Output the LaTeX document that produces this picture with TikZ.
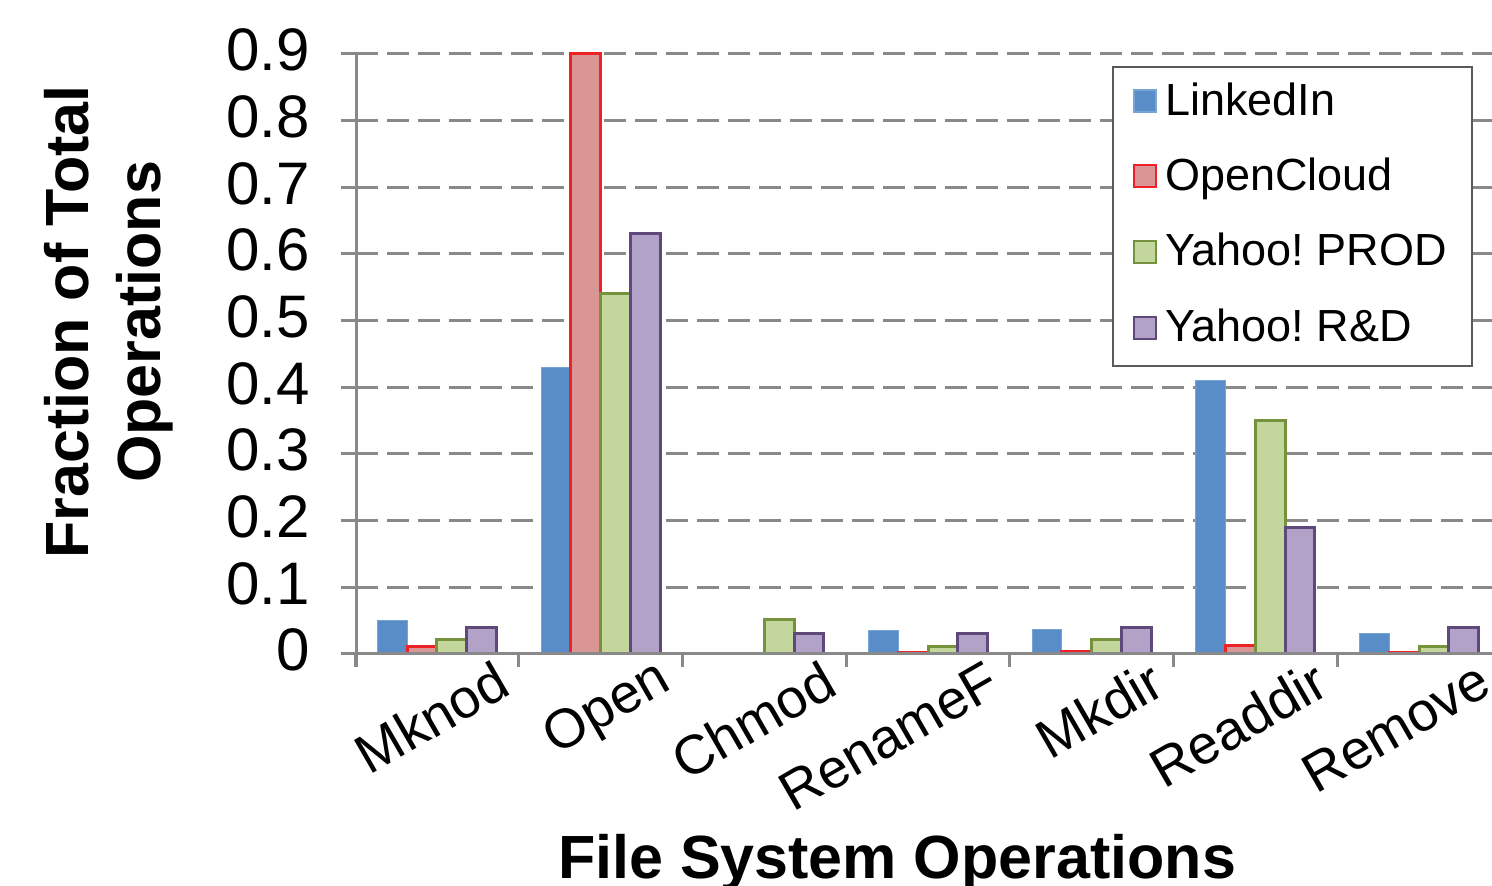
\documentclass[tikz,border=0pt]{standalone}
\usepackage{fontspec}
\setmainfont{Liberation Sans}
\frenchspacing
\definecolor{gridgray}{RGB}{137,137,137}
\definecolor{lkfill}{RGB}{88,141,200}
\definecolor{lkdraw}{RGB}{120,165,215}
\definecolor{ocfill}{RGB}{217,150,148}
\definecolor{ocdraw}{RGB}{238,34,38}
\definecolor{ypfill}{RGB}{195,214,155}
\definecolor{ypdraw}{RGB}{118,146,60}
\definecolor{yrfill}{RGB}{178,162,199}
\definecolor{yrdraw}{RGB}{95,73,122}
\definecolor{legdraw}{RGB}{90,90,90}
\newcommand\drawbar[3]{\pgfmathtruncatemacro\barok{(#3>0)?1:0}\ifnum\barok=1 \draw[#1] (#2,232) rectangle ++(29.76,{#3*666.67});\fi}
\tikzset{
  grid/.style={draw=gridgray,line width=3pt,dash pattern=on 22pt off 9pt},
  axisline/.style={draw=gridgray,line width=3pt},
  lk/.style={fill=lkfill,draw=lkdraw,line width=1pt},
  oc/.style={fill=ocfill,draw=ocdraw,line width=3pt},
  yp/.style={fill=ypfill,draw=ypdraw,line width=3pt},
  yr/.style={fill=yrfill,draw=yrdraw,line width=3pt},
  ticklab/.style={inner sep=0pt,font=\fontsize{60}{72}\selectfont,anchor=base east},
  catlab/.style={inner sep=0pt,font=\fontsize{55}{66}\selectfont,anchor=east,rotate=30},
  axtitle/.style={inner sep=0pt,font=\fontsize{61}{72}\selectfont\bfseries,anchor=base},
  legtext/.style={inner sep=0pt,font=\fontsize{45}{54}\selectfont,anchor=base west},
}
\begin{document}
\begin{tikzpicture}[x=1pt,y=1pt]
\useasboundingbox (0,0) rectangle (1492,886);
% gridlines
\foreach \k in {1,...,9}{
  \pgfmathsetmacro\yy{232+\k*66.667}
  \draw[grid] (356,\yy) -- (1492,\yy);
  \draw[axisline] (341,\yy) -- (356,\yy);
}
% y tick labels
\foreach \k/\t in {0/0,1/0.1,2/0.2,3/0.3,4/0.4,5/0.5,6/0.6,7/0.7,8/0.8,9/0.9}{
  \pgfmathsetmacro\yy{232+\k*66.667-17}
  \node[ticklab] (yt\k) at (310,\yy) {\t};
}
% bars
\foreach \c/\a/\b/\g/\p [count=\i from 0] in {Mknod/0.05/0.011/0.021/0.04, Open/0.43/0.9/0.54/0.63, Chmod/0/0/0.051/0.031, RenameF/0.035/0.002/0.011/0.031, Mkdir/0.036/0.003/0.021/0.04, Readdir/0.41/0.013/0.35/0.19, Remove/0.03/0.002/0.011/0.04}{
  \pgfmathsetmacro\xo{355+\i*163.7+22.4}
  \pgfmathsetmacro\xa{\xo}
  \pgfmathsetmacro\xb{\xo+29.76}
  \pgfmathsetmacro\xg{\xo+2*29.76}
  \pgfmathsetmacro\xp{\xo+3*29.76}
  \drawbar{lk}{\xa}{\a}
  \drawbar{oc}{\xb}{\b}
  \drawbar{yp}{\xg}{\g}
  \drawbar{yr}{\xp}{\p}
  \pgfmathsetmacro\xl{355+\i*163.7+81.85+66}
  \node[catlab] (cat\i) at (\xl,210) {\c};
}
% axes
\draw[axisline] (356,219) -- (356,832);
\draw[axisline] (341,232) -- (1492,232);
\foreach \i in {0,...,6}{
  \pgfmathsetmacro\xx{355+\i*163.7}
  \draw[axisline] (\xx,232) -- (\xx,219);
}
% axis titles
\node[axtitle,rotate=90] (ytitle1) at (88,564) {Fraction of Total};
\node[axtitle,rotate=90] (ytitle2) at (160,564) {Operations};
\node[axtitle] (xtitle) at (897,7) {File System Operations};
% legend
\draw[draw=legdraw,fill=white,line width=2pt] (1113,819) rectangle (1472,520);
\foreach \s/\t/\cy [count=\j] in {lk/LinkedIn/101.5,oc/OpenCloud/176.5,yp/Yahoo! PROD/252,yr/Yahoo! R\&D/328}{
  \pgfmathsetmacro\yy{886-\cy}
  \draw[\s,line width=2pt] (1134,\yy-11) rectangle (1156,\yy+11);
  \node[legtext] (leg\j) at (1165,\yy-14) {\t};
}
\end{tikzpicture}
\end{document}
